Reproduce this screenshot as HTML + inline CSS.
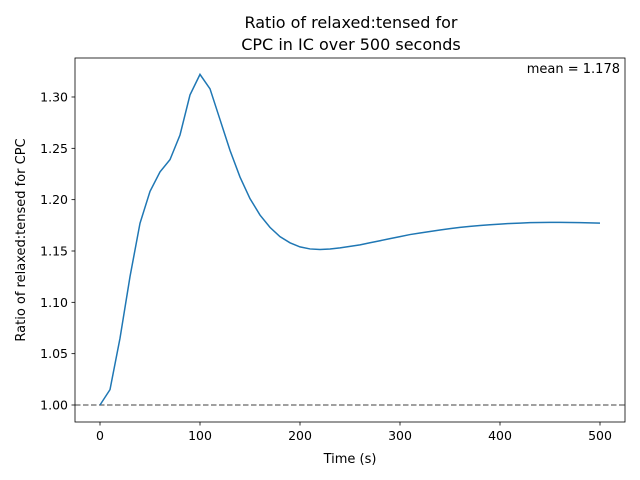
<!DOCTYPE html>
<html><head><meta charset="utf-8"><style>
body{margin:0;background:#fff;}
svg{display:block;font-family:"DejaVu Sans","Liberation Sans",sans-serif;}
</style></head><body>
<svg id="chart" width="640" height="480">
<rect x="0" y="0" width="640" height="480" fill="#fff"/>
<text x="351" y="28" font-size="16" text-anchor="middle">Ratio of relaxed:tensed for</text>
<text x="351" y="50" font-size="16" text-anchor="middle">CPC in IC over 500 seconds</text>
<g id="ticks"></g>
<line id="baseline" stroke="#808080" stroke-width="1.5" stroke-dasharray="5.5,2.5"/>
<path id="line" fill="none" stroke="#1f77b4" stroke-width="1.5"/>
<rect x="75" y="58" width="550" height="364" fill="none" stroke="#000" stroke-width="0.8"/>
<text x="620" y="73" font-size="13" text-anchor="end">mean = 1.178</text>
<text x="350" y="463" font-size="13" text-anchor="middle">Time (s)</text>
<text x="25" y="240" font-size="13" text-anchor="middle" transform="rotate(-90 25 240)">Ratio of relaxed:tensed for CPC</text>
</svg>
<script>
const times = [0,10,20,30,40,50,60,70,80,90,100,110,120,130,140,150,160,170,180,190,200,210,220,230,240,250,260,270,280,290,300,310,320,330,340,350,360,370,380,390,400,410,420,430,440,450,460,470,480,490,500];
const ratios = [1.0,1.015,1.065,1.125,1.177,1.208,1.227,1.239,1.263,1.302,1.322,1.308,1.278,1.248,1.222,1.201,1.185,1.173,1.164,1.158,1.154,1.152,1.1515,1.152,1.153,1.1545,1.156,1.158,1.160,1.162,1.164,1.166,1.1675,1.169,1.1705,1.1718,1.173,1.174,1.1748,1.1755,1.1762,1.1768,1.1772,1.1776,1.1778,1.1779,1.1779,1.1778,1.1776,1.1774,1.1771];
const xTicks = [0,100,200,300,400,500];
const yTicks = [1.00,1.05,1.10,1.15,1.20,1.25,1.30];
const baselineValue = 1.0;
function xs(t){return 100 + t*1.0;}
function ys(v){return 405 - (v-1.0)*1026.7;}
const NS="http://www.w3.org/2000/svg";
const g=document.getElementById('ticks');
xTicks.forEach(t=>{
  const l=document.createElementNS(NS,'line');
  l.setAttribute('x1',xs(t));l.setAttribute('x2',xs(t));l.setAttribute('y1',422);l.setAttribute('y2',425.5);l.setAttribute('stroke','#000');l.setAttribute('stroke-width','0.8');
  
  
  g.appendChild(l);
  const tx=document.createElementNS(NS,'text');
  tx.setAttribute('x',xs(t));tx.setAttribute('y',440);tx.setAttribute('font-size','12.5');tx.setAttribute('text-anchor','middle');
  tx.textContent=t;
  
  
  g.appendChild(tx);
});
yTicks.forEach(v=>{
  const l=document.createElementNS(NS,'line');
  l.setAttribute('x1',71.5);l.setAttribute('x2',75);l.setAttribute('y1',ys(v));l.setAttribute('y2',ys(v));l.setAttribute('stroke','#000');l.setAttribute('stroke-width','0.8');
  
  
  g.appendChild(l);
  const tx=document.createElementNS(NS,'text');
  tx.setAttribute('x',68);tx.setAttribute('y',ys(v)+4.5);tx.setAttribute('font-size','12.5');tx.setAttribute('text-anchor','end');
  tx.textContent=v.toFixed(2);
  
  
  g.appendChild(tx);
});
const b=document.getElementById('baseline');
b.setAttribute('x1',75);b.setAttribute('x2',625);b.setAttribute('y1',ys(baselineValue));b.setAttribute('y2',ys(baselineValue));
document.getElementById('line').setAttribute('d',times.map((t,i)=>(i?'L':'M')+xs(t).toFixed(2)+','+ys(ratios[i]).toFixed(2)).join(''));
</script>
</body></html>
